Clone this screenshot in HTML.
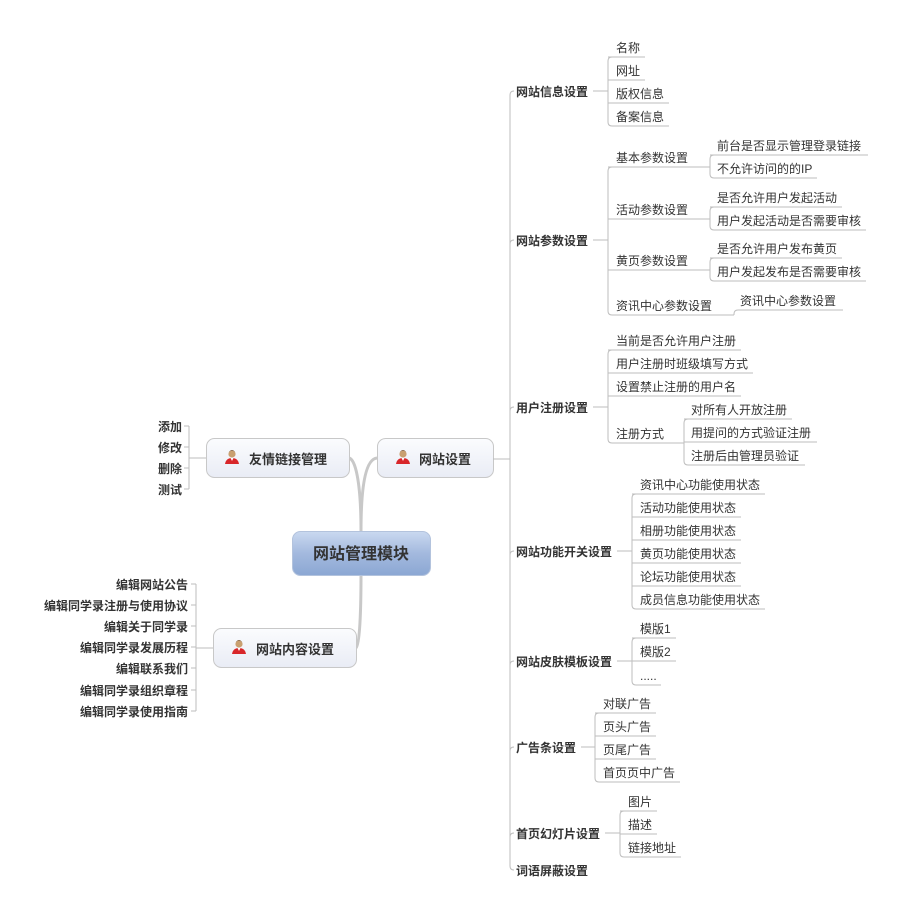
<!DOCTYPE html>
<html><head><meta charset="utf-8"><style>
html,body{margin:0;padding:0;background:#fff;}
svg{display:block;font-family:"Liberation Sans","Noto Sans CJK SC","WenQuanYi Zen Hei",sans-serif;}
.t{font-size:12px;fill:#333;transform:translateY(1px);}
.b{font-size:12px;fill:#333;font-weight:bold;transform:translateY(1px);}
.n{font-size:13px;fill:#333;font-weight:bold;transform:translateY(1px);}
.l{fill:none;stroke:#bdbdbd;stroke-width:1;}
</style></head><body>
<svg width="907" height="916" viewBox="0 0 907 916" xmlns="http://www.w3.org/2000/svg">
<defs>
<linearGradient id="g1" x1="0" y1="0" x2="0" y2="1"><stop offset="0" stop-color="#fbfcfe"/><stop offset="1" stop-color="#e9ecf5"/></linearGradient>
<linearGradient id="g2" x1="0" y1="0" x2="0" y2="1"><stop offset="0" stop-color="#cad9f0"/><stop offset="0.5" stop-color="#a3b9de"/><stop offset="1" stop-color="#8ba7d3"/></linearGradient>
<g id="p"><circle cx="0" cy="-4" r="3.6" fill="#c9a070"/><path d="M-3.8,-5 Q0,-11 3.8,-5 L3,-6 Q0,-9 -3,-6Z" fill="#5a3a22"/><path d="M-7,6 Q-6,0 0,0 Q6,0 7,6Z" fill="#d8262a"/><path d="M-1.5,0 L0,3 L1.5,0Z" fill="#fff"/></g>
</defs>

<path d="M361,531 C361,480 355,459 349,458" stroke="#c8c8c8" stroke-width="3" fill="none"/>
<path d="M361,531 C361,480 367,459 377,458" stroke="#c8c8c8" stroke-width="3" fill="none"/>
<path d="M361,575 C361,620 359,648 356,648" stroke="#c8c8c8" stroke-width="3" fill="none"/>

<rect x="206.5" y="438.5" width="143" height="39" rx="8" fill="url(#g1)" stroke="#c8c8c8"/>
<use href="#p" x="232" y="458"/>
<text class="n" x="249" y="463">友情链接管理</text>
<rect x="377.5" y="438.5" width="116" height="39" rx="8" fill="url(#g1)" stroke="#c8c8c8"/>
<use href="#p" x="403" y="458"/>
<text class="n" x="419" y="463">网站设置</text>
<rect x="213.5" y="628.5" width="143" height="39" rx="8" fill="url(#g1)" stroke="#c8c8c8"/>
<use href="#p" x="239" y="648"/>
<text class="n" x="256" y="653">网站内容设置</text>
<rect x="292.5" y="531.5" width="138" height="44" rx="8" fill="url(#g2)" stroke="#b3c3dd"/>
<text x="361" y="559" text-anchor="middle" style="font-size:16px;font-weight:bold;fill:#333">网站管理模块</text>

<path class="l" d="M206,458 H189 M189,426 V489 M184,426 H189 M184,447 H189 M184,468 H189 M184,489 H189"/>
<text class="b" x="182" y="430" text-anchor="end">添加</text>
<text class="b" x="182" y="451" text-anchor="end">修改</text>
<text class="b" x="182" y="472" text-anchor="end">删除</text>
<text class="b" x="182" y="493" text-anchor="end">测试</text>
<path class="l" d="M213,648 H196 M196,584 V711 M191,584 H196 M191,605 H196 M191,626 H196 M191,647 H196 M191,668 H196 M191,690 H196 M191,711 H196"/>
<text class="b" x="188" y="588" text-anchor="end">编辑网站公告</text>
<text class="b" x="188" y="609" text-anchor="end">编辑同学录注册与使用协议</text>
<text class="b" x="188" y="630" text-anchor="end">编辑关于同学录</text>
<text class="b" x="188" y="651" text-anchor="end">编辑同学录发展历程</text>
<text class="b" x="188" y="672" text-anchor="end">编辑联系我们</text>
<text class="b" x="188" y="694" text-anchor="end">编辑同学录组织章程</text>
<text class="b" x="188" y="715" text-anchor="end">编辑同学录使用指南</text>

<path class="l" d="M493,459 H510"/>
<path class="l" d="M514,91 Q510,91 510,95 V866 Q510,870 514,870"/>
<path class="l" d="M510,244 Q510,240 514,240 M510,411 Q510,407 514,407 M510,555 Q510,551 514,551 M510,665 Q510,661 514,661 M510,751 Q510,747 514,747 M510,837 Q510,833 514,833"/>
<text class="b" x="516" y="95">网站信息设置</text>
<text class="b" x="516" y="244">网站参数设置</text>
<text class="b" x="516" y="411">用户注册设置</text>
<text class="b" x="516" y="555">网站功能开关设置</text>
<text class="b" x="516" y="665">网站皮肤模板设置</text>
<text class="b" x="516" y="751">广告条设置</text>
<text class="b" x="516" y="837">首页幻灯片设置</text>
<text class="b" x="516" y="874">词语屏蔽设置</text>

<path class="l" d="M593,91 H608 M612,57 Q608,57 608,61 V122 Q608,126 612,126 M608,57 H645 M608,80 H645 M608,103 H669 M612,126 H669"/>
<text class="t" x="616" y="51">名称</text>
<text class="t" x="616" y="74">网址</text>
<text class="t" x="616" y="97">版权信息</text>
<text class="t" x="616" y="120">备案信息</text>

<path class="l" d="M593,240 H608 M612,167 Q608,167 608,171 V311 Q608,315 612,315 M608,167 H710 M608,219 H710 M608,270 H710 M612,315 H734 M734,315 V314 Q734,310 738,310 H843"/>
<text class="t" x="616" y="161">基本参数设置</text>
<text class="t" x="616" y="213">活动参数设置</text>
<text class="t" x="616" y="264">黄页参数设置</text>
<text class="t" x="616" y="309">资讯中心参数设置</text>
<path class="l" d="M714,155 Q710,155 710,159 V174 Q710,178 714,178 M710,155 H868 M714,178 H817"/>
<text class="t" x="717" y="149">前台是否显示管理登录链接</text>
<text class="t" x="717" y="172">不允许访问的的IP</text>
<path class="l" d="M714,207 Q710,207 710,211 V226 Q710,230 714,230 M710,207 H842 M714,230 H866"/>
<text class="t" x="717" y="201">是否允许用户发起活动</text>
<text class="t" x="717" y="224">用户发起活动是否需要审核</text>
<path class="l" d="M714,258 Q710,258 710,262 V277 Q710,281 714,281 M710,258 H842 M714,281 H866"/>
<text class="t" x="717" y="252">是否允许用户发布黄页</text>
<text class="t" x="717" y="275">用户发起发布是否需要审核</text>
<text class="t" x="740" y="304">资讯中心参数设置</text>

<path class="l" d="M593,407 H608 M612,350 Q608,350 608,354 V439 Q608,443 612,443 M608,350 H741 M608,373 H753 M608,396 H741 M612,443 H684"/>
<text class="t" x="616" y="344">当前是否允许用户注册</text>
<text class="t" x="616" y="367">用户注册时班级填写方式</text>
<text class="t" x="616" y="390">设置禁止注册的用户名</text>
<text class="t" x="616" y="437">注册方式</text>
<path class="l" d="M688,419 Q684,419 684,423 V461 Q684,465 688,465 M684,419 H792 M684,442 H817 M688,465 H805"/>
<text class="t" x="691" y="413">对所有人开放注册</text>
<text class="t" x="691" y="436">用提问的方式验证注册</text>
<text class="t" x="691" y="459">注册后由管理员验证</text>

<path class="l" d="M617,551 H632 M636,494 Q632,494 632,498 V605 Q632,609 636,609 M632,494 H765 M632,517 H741 M632,540 H741 M632,563 H741 M632,586 H741 M636,609 H765"/>
<text class="t" x="640" y="488">资讯中心功能使用状态</text>
<text class="t" x="640" y="511">活动功能使用状态</text>
<text class="t" x="640" y="534">相册功能使用状态</text>
<text class="t" x="640" y="557">黄页功能使用状态</text>
<text class="t" x="640" y="580">论坛功能使用状态</text>
<text class="t" x="640" y="603">成员信息功能使用状态</text>

<path class="l" d="M617,661 H632 M636,638 Q632,638 632,642 V681 Q632,685 636,685 M632,638 H676 M632,661 H676 M636,685 H661"/>
<text class="t" x="640" y="632">模版1</text>
<text class="t" x="640" y="655">模版2</text>
<text class="t" x="640" y="679">.....</text>

<path class="l" d="M581,747 H595 M599,713 Q595,713 595,717 V778 Q595,782 599,782 M595,713 H656 M595,736 H656 M595,759 H656 M599,782 H680"/>
<text class="t" x="603" y="707">对联广告</text>
<text class="t" x="603" y="730">页头广告</text>
<text class="t" x="603" y="753">页尾广告</text>
<text class="t" x="603" y="776">首页页中广告</text>

<path class="l" d="M605,833 H620 M624,811 Q620,811 620,815 V853 Q620,857 624,857 M620,811 H657 M620,834 H657 M624,857 H681"/>
<text class="t" x="628" y="805">图片</text>
<text class="t" x="628" y="828">描述</text>
<text class="t" x="628" y="851">链接地址</text>
</svg>
</body></html>
